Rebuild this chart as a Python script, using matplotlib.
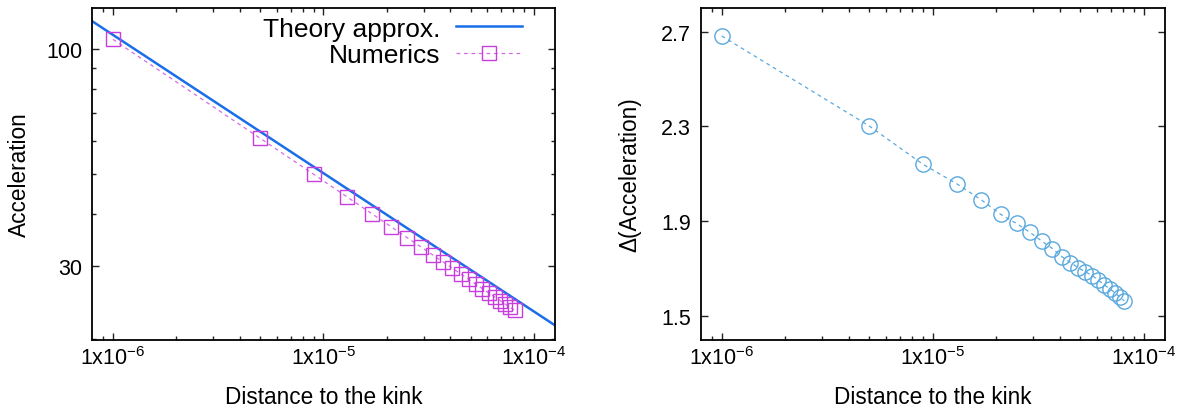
import numpy as np
import matplotlib
matplotlib.use("Agg")
import matplotlib.pyplot as plt
from matplotlib.ticker import FixedLocator, FuncFormatter, NullFormatter

plt.rcParams['font.family'] = ['Liberation Sans', 'DejaVu Sans']
plt.rcParams['mathtext.default'] = 'regular'

# Distance to the kink (sampling positions)
distance = [1e-6, 5e-6, 9e-6, 13e-6, 17e-6, 21e-6, 25e-6, 29e-6, 33e-6, 37e-6,
            41e-6, 45e-6, 49e-6, 53e-6, 57e-6, 61e-6, 65e-6, 69e-6, 73e-6,
            77e-6, 81e-6]

# Numerically computed acceleration
acceleration_numerics = [105.52, 60.97, 49.88, 43.96, 40.09, 37.29, 35.11,
                         33.37, 31.92, 30.69, 29.63, 28.70, 27.87, 27.12,
                         26.44, 25.84, 25.28, 24.77, 24.29, 23.85, 23.45]

# Difference between theory and numerics
delta_acceleration = [2.682, 2.302, 2.140, 2.058, 1.990, 1.929, 1.890, 1.852,
                      1.815, 1.784, 1.750, 1.725, 1.703, 1.686, 1.670, 1.652,
                      1.631, 1.615, 1.598, 1.580, 1.563]

# Theory approximation: a = C * d^(-1/3)
theory_prefactor = 1.082
theory_exponent = -1.0 / 3.0

x_limits = (7.95e-7, 1.26e-4)
x_major = [1e-6, 1e-5, 1e-4]
x_minor = [9e-7] + [m * 10.0 ** e for e in (-6, -5) for m in range(2, 10)]
left_y_major = [30, 100]
left_y_minor = [20, 40, 50, 60, 70, 80, 90]
right_y_major = [1.5, 1.9, 2.3, 2.7]

theory_color = '#1a6ee8'
numerics_color = '#c63edb'
numerics_line_color = '#d66ae6'
delta_color = '#5aa9de'

fig = plt.figure(figsize=(11.77, 4.10), dpi=100)
ax1 = fig.add_axes([92 / 1177, 1 - 340.5 / 410, 463 / 1177, 331.5 / 410])
ax2 = fig.add_axes([700.7 / 1177, 1 - 340.5 / 410, 464 / 1177, 331.5 / 410])


def sci_label(v, pos):
    e = int(round(np.log10(v)))
    return '1x10$^{%d}$' % e


for ax in (ax1, ax2):
    ax.set_xscale('log')
    ax.set_xlim(*x_limits)
    ax.xaxis.set_major_locator(FixedLocator(x_major))
    ax.xaxis.set_minor_locator(FixedLocator(x_minor))
    ax.xaxis.set_major_formatter(FuncFormatter(sci_label))
    ax.xaxis.set_minor_formatter(NullFormatter())
    ax.tick_params(which='both', direction='in', top=True, right=True,
                   width=1.0, labelsize=15.5, color='#222222')
    ax.tick_params(which='major', length=5)
    ax.tick_params(which='minor', length=2.8)
    ax.tick_params(axis='x', which='major', pad=5)
    ax.tick_params(axis='y', which='major', pad=7)
    for s in ax.spines.values():
        s.set_linewidth(1.3)
    ax.set_xlabel('Distance to the kink', fontsize=16.3, labelpad=11)

# Left panel: acceleration vs distance
xs = np.geomspace(x_limits[0], x_limits[1], 200)
ax1.plot(xs, theory_prefactor * xs ** theory_exponent, color=theory_color,
         lw=1.8, label='Theory approx.')
ax1.plot(distance, acceleration_numerics, color=numerics_line_color, lw=0.9,
         ls=(0, (3, 3)), marker='s', markersize=10.5, markerfacecolor='none',
         markeredgecolor=numerics_color, markeredgewidth=1.0,
         label='Numerics')
ax1.set_yscale('log')
ax1.set_ylim(19.95, 125.6)
ax1.yaxis.set_major_locator(FixedLocator(left_y_major))
ax1.yaxis.set_minor_locator(FixedLocator(left_y_minor))
ax1.yaxis.set_major_formatter(FuncFormatter(lambda v, p: '%d' % v))
ax1.yaxis.set_minor_formatter(NullFormatter())
ax1.set_ylabel('Acceleration', fontsize=16.3, labelpad=11)

leg = ax1.legend(loc='upper right', bbox_to_anchor=(0.958, 1.014),
                 frameon=False, markerfirst=False, fontsize=19,
                 handlelength=2.5, handletextpad=0.6, borderpad=0.0,
                 labelspacing=0.1)

# Right panel: difference
ax2.plot(distance, delta_acceleration, color=delta_color, lw=0.9,
         ls=(0, (3, 3)), marker='o', markersize=11, markerfacecolor='none',
         markeredgecolor=delta_color, markeredgewidth=1.0)
ax2.set_ylim(1.4, 2.8)
ax2.yaxis.set_major_locator(FixedLocator(right_y_major))
ax2.yaxis.set_major_formatter(FuncFormatter(lambda v, p: '%.1f' % v))
ax2.set_ylabel('Δ(Acceleration)', fontsize=16.3, labelpad=14)

fig.savefig('out.png', dpi=100)
